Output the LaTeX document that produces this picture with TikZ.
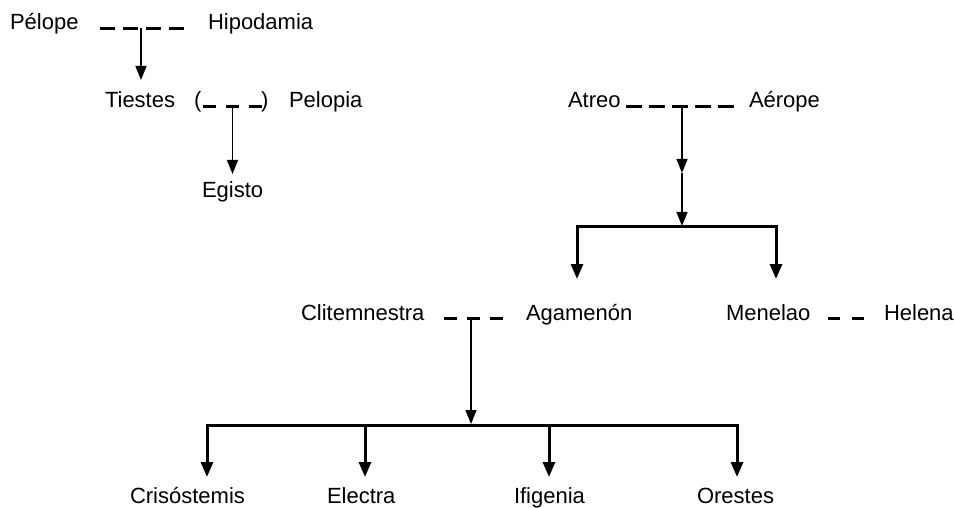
\documentclass[tikz,border=0pt]{standalone}
\usepackage{fontspec}
\setmainfont{Liberation Sans}
\usetikzlibrary{arrows.meta}
\tikzset{
  person/.style={font=\fontsize{22}{26}\selectfont, inner sep=0pt, outer sep=0pt, anchor=base west},
  spouse/.style={line width=3.2pt, dash pattern=on 15pt off 8pt},
  thinarrow/.style={line width=1.3pt, -{Triangle[width=11pt,length=14pt]}},
  thinline/.style={line width=1.3pt},
  barline/.style={line width=3pt},
  thickarrow/.style={line width=3pt, -{Triangle[width=12pt,length=15pt]}}
}
\begin{document}
\begin{tikzpicture}[x=1pt,y=-1pt]
\useasboundingbox (0,0) rectangle (954,508);
% names
\node[person] (pelope) at (10,30) {Pélope};
\node[person] (hipodamia) at (208,30) {Hipodamia};
\node[person] (tiestes) at (105,108) {Tiestes};
\node[person] (lpar) at (194,108) {(};
\node[person] (rpar) at (261,108) {)};
\node[person] (pelopia) at (289,108) {Pelopia};
\node[person] (egisto) at (202,198) {Egisto};
\node[person] (atreo) at (568,108) {Atreo};
\node[person] (aerope) at (749,108) {Aérope};
\node[person] (clitemnestra) at (301,320) {Clitemnestra};
\node[person] (agamenon) at (526,320) {Agamenón};
\node[person] (menelao) at (726,320) {Menelao};
\node[person] (helena) at (884,320) {Helena};
\node[person] (crisostemis) at (130,503) {Crisóstemis};
\node[person] (electra) at (327,503) {Electra};
\node[person] (ifigenia) at (514,503) {Ifigenia};
\node[person] (orestes) at (697,503) {Orestes};
% Pelope -- Hipodamia
\coordinate (pA) at (100,28.5);
\coordinate (pB) at (184,28.5);
\draw[spouse] (pA) -- (pB);
\coordinate (pM) at (141,28.5);
\coordinate (pT) at (141,80);
\draw[thinarrow] (pM) -- (pT);
% Tiestes -- Pelopia
\coordinate (tA) at (203,106.5);
\coordinate (tB) at (262,106.5);
\draw[spouse, dash pattern=on 13pt off 10pt] (tA) -- (tB);
\coordinate (tM) at (232.5,108);
\coordinate (tT) at (232.5,174);
\draw[thinarrow] (tM) -- (tT);
% Atreo -- Aerope
\coordinate (aA) at (626,106.5);
\coordinate (aB) at (734,106.5);
\draw[spouse, dash pattern=on 16pt off 7pt] (aA) -- (aB);
\coordinate (aM) at (682,107);
\coordinate (aMid) at (682,173);
\coordinate (aBar) at (682,226);
\draw[thinarrow] (aM) -- (aMid);
\draw[thinarrow] (aMid) -- (aBar);
\coordinate (aL) at (577,227);
\coordinate (aR) at (776,227);
\draw[barline, line cap=rect] (aL) -- (aR);
\coordinate (aLt) at (577,279);
\coordinate (aRt) at (776,279);
\draw[thickarrow] (aL) -- (aLt);
\draw[thickarrow] (aR) -- (aRt);
% Clitemnestra -- Agamenon
\coordinate (cA) at (444,318.5);
\coordinate (cB) at (503,318.5);
\draw[spouse, dash pattern=on 13pt off 10pt] (cA) -- (cB);
\coordinate (cM) at (471,320);
\coordinate (cBar) at (471,424);
\draw[thinarrow] (cM) -- (cBar);
\coordinate (cL) at (207,425);
\coordinate (cR) at (737,425);
\draw[barline, line cap=rect] (cL) -- (cR);
\coordinate (c1) at (207,425); \coordinate (c1t) at (207,477);
\coordinate (c2) at (365,425); \coordinate (c2t) at (365,477);
\coordinate (c3) at (549,425); \coordinate (c3t) at (549,477);
\coordinate (c4) at (737,425); \coordinate (c4t) at (737,477);
\draw[thickarrow] (c1) -- (c1t);
\draw[thickarrow] (c2) -- (c2t);
\draw[thickarrow] (c3) -- (c3t);
\draw[thickarrow] (c4) -- (c4t);
% Menelao -- Helena
\coordinate (mA) at (828,318.5);
\coordinate (mB) at (864,318.5);
\draw[spouse, dash pattern=on 12pt off 12pt] (mA) -- (mB);
\end{tikzpicture}
\end{document}
